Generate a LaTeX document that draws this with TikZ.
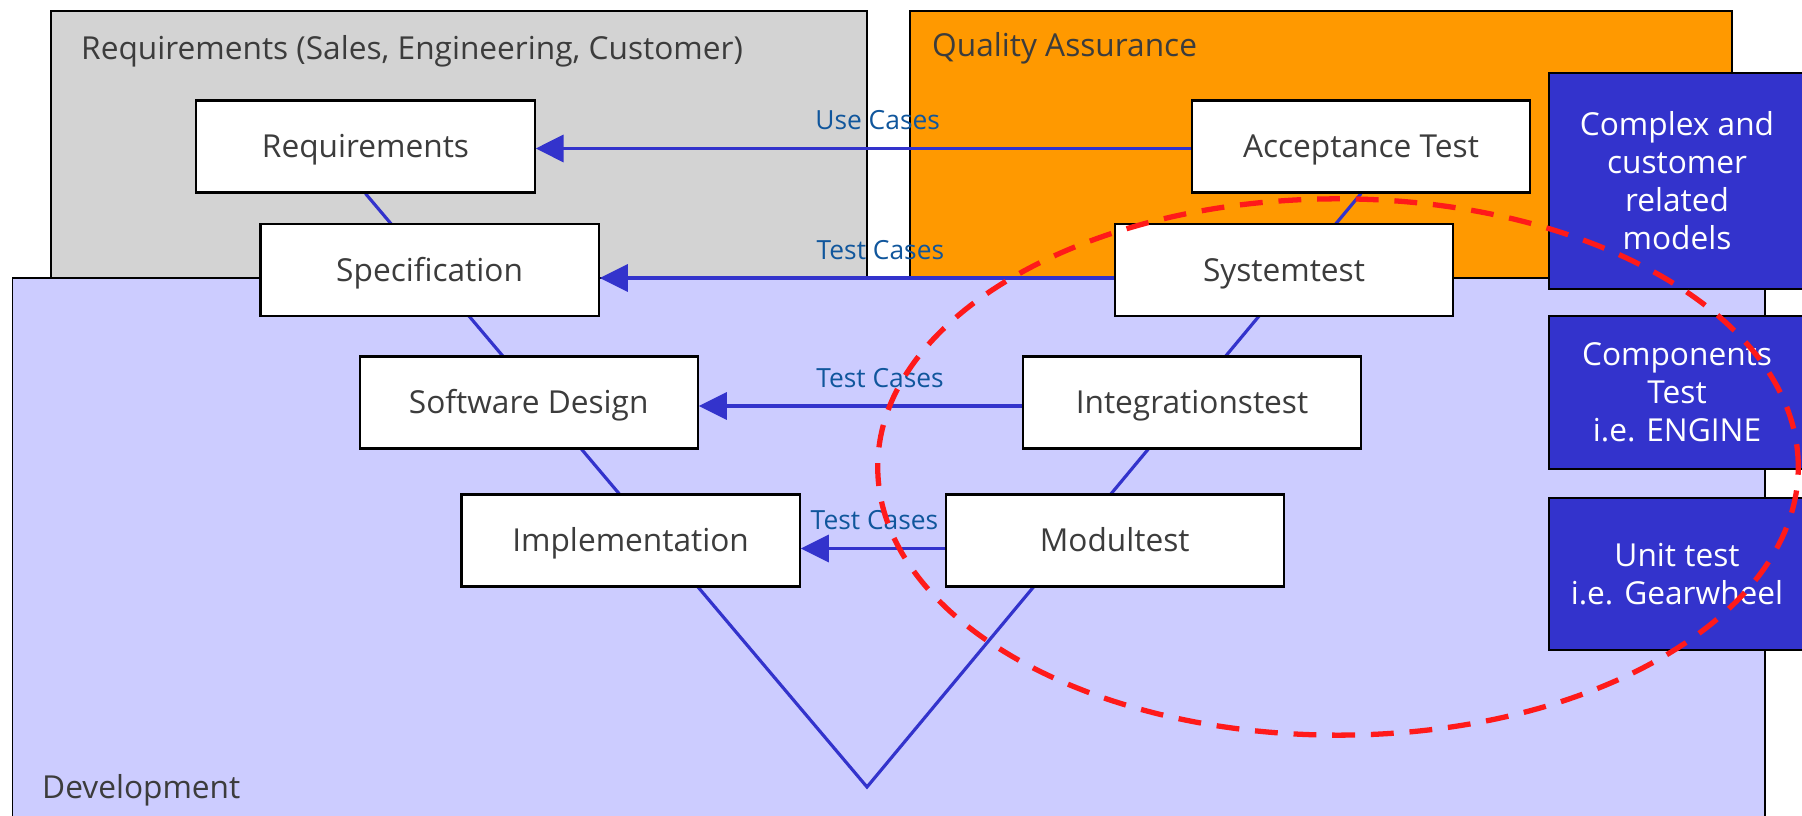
\documentclass[tikz,border=0pt]{standalone}
\usepackage{fontspec}
\setmainfont{Open Sans}
\usepackage{tikz}
\usetikzlibrary{arrows.meta}
\usetikzlibrary{backgrounds}
\definecolor{reqgray}{HTML}{D3D3D3}
\definecolor{qaorange}{HTML}{FF9900}
\definecolor{devlilac}{HTML}{CCCCFF}
\definecolor{vblue}{HTML}{3333CC}
\definecolor{casetext}{HTML}{10569C}
\definecolor{boxtext}{HTML}{3C3C3C}
\definecolor{ringred}{HTML}{FF1A1A}

\begin{document}
\begin{tikzpicture}[x=0.01cm, y=-0.01cm,
		stage/.style = {draw, fill=white, line width=0.6pt, minimum width=3.38cm, minimum height=0.92cm, text height=6.4pt, text depth=0pt, text=boxtext, font=\fontsize{9}{11}\selectfont},
		model/.style = {draw, fill=vblue, line width=0.5pt, minimum width=2.56cm, text=white, align=center, font=\fontsize{9}{10.8}\selectfont},
		area/.style = {draw, line width=0.5pt},
		areatitle/.style = {anchor=base west, inner sep=0pt, text=boxtext, font=\fontsize{9}{11}\selectfont},
		flow/.style = {vblue, line width=1pt, -{Triangle[length=2.8mm,width=2.7mm]}},
		cases/.style = {above=4.8pt, inner sep=0pt, text=casetext, font=\fontsize{7.5}{9}\selectfont},
		ring/.style = {ringred, line width=1.5pt, dash pattern=on 6.5pt off 4.5pt}]
	\useasboundingbox (0,0) rectangle (1802,816);
	\begin{scope}[every node/.style={stage}]
		\node (req) at (365.5,146.5) {Requirements};
		\node (spec) at (429.6,270) {Specification};
		\node (swd) at (528.7,402.5) {Software Design};
		\node (impl) at (630.6,540.5) {Implementation};
		\node (acc) at (1361,146.5) {Acceptance Test};
		\node (sys) at (1284,270) {Systemtest};
		\node (integ) at (1192,402.5) {Integrationstest};
		\node (mod) at (1114.7,540.5) {Modultest};
	\end{scope}
	\coordinate (vbottom) at (867,787);
	\begin{scope}[on background layer]
		\draw[area, fill=reqgray] (51,11) rectangle (867,290);
		\draw[area, fill=qaorange] (910,11) rectangle (1732,278);
		\draw[area, fill=devlilac] (12.5,278) rectangle (1765,830);
		\draw[vblue, line width=0.9pt] (req.south) -- (vbottom) -- (acc.south);
	\end{scope}
	\node[areatitle] (reqtitle) at (80.5,60) {Requirements (Sales, Engineering, Customer)};
	\node[areatitle] (qatitle) at (931.5,57) {Quality Assurance};
	\node[areatitle] (devtitle) at (41.5,799) {Development};
	% models tested on each level
	\node[model, minimum height=2.16cm] (cplx) at (1677,181) {Complex and\\customer\\related\\models};
	\node[model, minimum height=1.53cm] (comp) at (1677,392.5) {Components\\Test\\i.e. ENGINE};
	\node[model, minimum height=1.52cm] (unit) at (1677,574) {Unit test\\i.e. Gearwheel};
	\draw[flow] ([yshift=-0.02cm]acc.west) -- node[cases, pos=0.478] {Use Cases} ([yshift=-0.02cm]req.east);
	\draw[flow] ([yshift=-0.08cm]sys.west) -- node[cases, pos=0.454] {Test Cases} ([yshift=-0.08cm]spec.east);
	\draw[flow] ([yshift=-0.035cm]integ.west) -- node[cases, pos=0.439] {Test Cases} ([yshift=-0.035cm]swd.east);
	\draw[flow] ([yshift=-0.08cm]mod.west) -- node[cases, pos=0.487] {Test Cases} ([yshift=-0.08cm]impl.east);
	\draw[ring] (1338,467) ellipse [x radius=4.6cm, y radius=2.68cm];
\end{tikzpicture}
\end{document}
